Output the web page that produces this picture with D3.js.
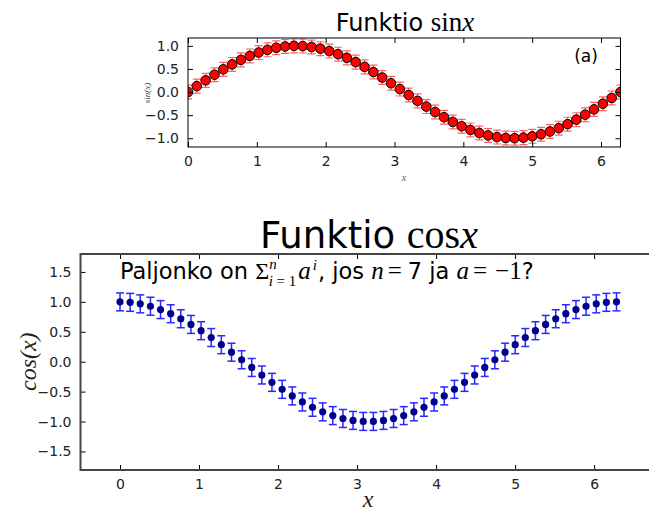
<!DOCTYPE html>
<html>
<head>
<meta charset="utf-8">
<script src="https://cdn.jsdelivr.net/npm/d3@7"></script>
<style>
  body { margin: 0; background: #fff; }
  svg { display: block; }
  .tick text { font-family: "DejaVu Sans", sans-serif; }
</style>
</head>
<body>
<svg id="canvas" width="649" height="513"></svg>
<script>
// sample points, 50 steps over 0..2pi
let xs = [0, 0.128, 0.256, 0.385, 0.513, 0.641, 0.769, 0.898, 1.026, 1.154,
  1.282, 1.411, 1.539, 1.667, 1.795, 1.923, 2.052, 2.180, 2.308, 2.436,
  2.565, 2.693, 2.821, 2.949, 3.078, 3.206, 3.334, 3.462, 3.590, 3.719,
  3.847, 3.975, 4.103, 4.232, 4.360, 4.488, 4.616, 4.744, 4.873, 5.001,
  5.129, 5.257, 5.386, 5.514, 5.642, 5.770, 5.898, 6.027, 6.155, 6.283];

let sinValues = [0, 0.128, 0.253, 0.375, 0.491, 0.598, 0.696, 0.782, 0.855, 0.914,
  0.959, 0.987, 1.0, 0.995, 0.975, 0.939, 0.887, 0.820, 0.740, 0.648,
  0.545, 0.433, 0.315, 0.191, 0.064, -0.064, -0.191, -0.315, -0.433, -0.545,
  -0.648, -0.740, -0.820, -0.887, -0.939, -0.975, -0.995, -1.0, -0.987, -0.959,
  -0.914, -0.855, -0.782, -0.696, -0.598, -0.491, -0.375, -0.253, -0.128, 0];

let cosValues = [1.0, 0.992, 0.967, 0.927, 0.871, 0.802, 0.718, 0.623, 0.518, 0.404,
  0.284, 0.159, 0.032, -0.096, -0.222, -0.345, -0.462, -0.572, -0.673, -0.762,
  -0.838, -0.901, -0.949, -0.981, -0.998, -0.998, -0.981, -0.949, -0.901, -0.838,
  -0.762, -0.673, -0.572, -0.462, -0.345, -0.222, -0.096, 0.032, 0.159, 0.284,
  0.404, 0.518, 0.623, 0.718, 0.802, 0.871, 0.927, 0.967, 0.992, 1.0];

let errorSize = 0.15;

let topXTicks = [0, 1, 2, 3, 4, 5, 6];
let topYTicks = [-1.0, -0.5, 0.0, 0.5, 1.0];
let bottomXTicks = [0, 1, 2, 3, 4, 5, 6];
let bottomYTicks = [-1.5, -1.0, -0.5, 0.0, 0.5, 1.0, 1.5];

let canvas = d3.select("#canvas");
const sans = "'DejaVu Sans', sans-serif";
const serif = "'Liberation Serif', serif";

// draws a box with inward ticks on all four sides
const drawFrame = (g, x, y, xTicks, yTicks, fmtY, fontSize, strokeW, color) => {
  let [x0, x1] = x.range();
  let [y0, y1] = y.range(); // y0 bottom, y1 top
  let tickLen = 5;

  let bottomAxis = d3.axisBottom(x).tickValues(xTicks).tickSize(-tickLen).tickPadding(9).tickFormat(d3.format("d"));
  let topAxis = d3.axisTop(x).tickValues(xTicks).tickSize(-tickLen).tickFormat("");
  let leftAxis = d3.axisLeft(y).tickValues(yTicks).tickSize(-tickLen).tickPadding(9).tickFormat(fmtY);
  let rightAxis = d3.axisRight(y).tickValues(yTicks).tickSize(-tickLen).tickFormat("");

  let axes = [
    [bottomAxis, `translate(0,${y0})`],
    [topAxis, `translate(0,${y1})`],
    [leftAxis, `translate(${x0},0)`],
    [rightAxis, `translate(${x1},0)`],
  ];
  axes.forEach(([ax, tr]) => {
    let a = g.append("g").attr("transform", tr).call(ax);
    a.select(".domain").remove();
    a.selectAll(".tick line").attr("stroke", "#000").attr("stroke-width", 1);
    a.selectAll(".tick text").attr("font-size", fontSize).attr("fill", "#222");
  });

  g.append("rect")
    .attr("x", x0).attr("y", y1)
    .attr("width", x1 - x0).attr("height", y0 - y1)
    .attr("fill", "none")
    .attr("stroke", color)
    .attr("stroke-width", strokeW);
};

// ---------- top panel: sin ----------
let xTop = d3.scaleLinear().domain([0, 6.283]).range([188, 620.5]);
let yTop = d3.scaleLinear().domain([-1.19, 1.17]).range([147, 38]);
let gTop = canvas.append("g");

gTop.append("clipPath").attr("id", "clipTop")
  .append("rect").attr("x", 188).attr("y", 38).attr("width", 432.5).attr("height", 109);

let topData = xs.map((d, i) => ({ x: d, y: sinValues[i] }));
let topMarks = gTop.append("g").attr("clip-path", "url(#clipTop)");
let capTop = 4;

topMarks.selectAll("g.err")
  .data(topData)
  .enter()
  .append("g")
  .attr("class", "err")
  .each(function (d) {
    let g = d3.select(this);
    let cx = xTop(d.x), ya = yTop(d.y + errorSize), yb = yTop(d.y - errorSize);
    g.append("line").attr("x1", cx).attr("x2", cx).attr("y1", ya).attr("y2", yb);
    g.append("line").attr("x1", cx - capTop).attr("x2", cx + capTop).attr("y1", ya).attr("y2", ya);
    g.append("line").attr("x1", cx - capTop).attr("x2", cx + capTop).attr("y1", yb).attr("y2", yb);
  })
  .attr("stroke", "#ff3030")
  .attr("stroke-opacity", 0.75)
  .attr("stroke-width", 1.2);

topMarks.selectAll("circle")
  .data(topData)
  .enter()
  .append("circle")
  .attr("cx", (d) => xTop(d.x))
  .attr("cy", (d) => yTop(d.y))
  .attr("r", 4.8)
  .attr("fill", "#ff0000")
  .attr("stroke", "#000")
  .attr("stroke-width", 1);

drawFrame(gTop, xTop, yTop, topXTicks, topYTicks, d3.format(".1f"), 14, 1, "#000");

// top title
let t1 = gTop.append("text").attr("x", 405).attr("y", 31).attr("text-anchor", "middle").attr("font-size", 24).attr("fill", "#000");
t1.append("tspan").attr("font-family", sans).text("Funktio ");
t1.append("tspan").attr("font-family", serif).attr("font-size", 27).text("sin");
t1.append("tspan").attr("font-family", serif).attr("font-size", 27).attr("font-style", "italic").text("x");

gTop.append("text")
  .attr("x", 586).attr("y", 62)
  .attr("text-anchor", "middle")
  .attr("font-family", sans)
  .attr("font-size", 17)
  .text("(a)");

gTop.append("text")
  .attr("transform", "translate(150,93) rotate(-90)")
  .attr("text-anchor", "middle")
  .attr("font-family", serif)
  .attr("font-style", "italic")
  .attr("font-size", 9)
  .attr("fill", "#333")
  .text("sin(x)");

gTop.append("text")
  .attr("x", 404).attr("y", 181)
  .attr("text-anchor", "middle")
  .attr("font-family", serif)
  .attr("font-style", "italic")
  .attr("font-size", 10)
  .attr("fill", "#555")
  .text("x");

// ---------- bottom panel: cos ----------
let xBot = d3.scaleLinear().domain([-0.5, 6.783]).range([80.5, 656]);
let yBot = d3.scaleLinear().domain([-1.81, 1.8]).range([470, 254]);
let gBot = canvas.append("g");

let botData = xs.map((d, i) => ({ x: d, y: cosValues[i] }));
let capBot = 4;

gBot.selectAll("g.err")
  .data(botData)
  .enter()
  .append("g")
  .attr("class", "err")
  .each(function (d) {
    let g = d3.select(this);
    let cx = xBot(d.x), ya = yBot(d.y + errorSize), yb = yBot(d.y - errorSize);
    g.append("line").attr("x1", cx).attr("x2", cx).attr("y1", ya).attr("y2", yb);
    g.append("line").attr("x1", cx - capBot).attr("x2", cx + capBot).attr("y1", ya).attr("y2", ya);
    g.append("line").attr("x1", cx - capBot).attr("x2", cx + capBot).attr("y1", yb).attr("y2", yb);
  })
  .attr("stroke", "#2828ff")
  .attr("stroke-width", 1.5);

gBot.selectAll("circle")
  .data(botData)
  .enter()
  .append("circle")
  .attr("cx", (d) => xBot(d.x))
  .attr("cy", (d) => yBot(d.y))
  .attr("r", 3.6)
  .attr("fill", "#00008b");

drawFrame(gBot, xBot, yBot, bottomXTicks, bottomYTicks, d3.format(".1f"), 14, 2, "#444");

// bottom title
let t2 = gBot.append("text").attr("x", 369).attr("y", 248).attr("text-anchor", "middle").attr("font-size", 37).attr("fill", "#000");
t2.append("tspan").attr("font-family", sans).text("Funktio ");
t2.append("tspan").attr("font-family", serif).attr("font-size", 40).text("cos");
t2.append("tspan").attr("font-family", serif).attr("font-size", 40).attr("font-style", "italic").text("x");

// annotation with math
let ann = gBot.append("text")
  .attr("x", xBot(0)).attr("y", yBot(1.5) + 7)
  .attr("font-size", 22.5)
  .attr("fill", "#000");
ann.append("tspan").attr("font-family", sans).text("Paljonko on ");
ann.append("tspan").attr("font-family", serif).attr("font-size", 24).text("Σ");
ann.append("tspan").attr("font-family", serif).attr("font-style", "italic").attr("font-size", 15).attr("dy", -10).text("n");
ann.append("tspan").attr("font-family", serif).attr("font-size", 15).attr("dx", -8).attr("dy", 17)
  .html("<tspan font-style='italic'>i</tspan> = 1");
ann.append("tspan").attr("font-family", serif).attr("font-size", 25).attr("font-style", "italic").attr("dx", 2).attr("dy", -7).text("a");
ann.append("tspan").attr("font-family", serif).attr("font-style", "italic").attr("font-size", 15).attr("dx", 2).attr("dy", -9).text("i");
ann.append("tspan").attr("font-family", sans).attr("dx", 1).attr("dy", 9).text(", jos ");
ann.append("tspan").attr("font-family", serif).attr("font-size", 25).attr("font-style", "italic").text("n");
ann.append("tspan").attr("font-family", serif).attr("font-size", 25).attr("dx", 4).text("=");
ann.append("tspan").attr("font-family", sans).attr("dx", 6).text("7 ja ");
ann.append("tspan").attr("font-family", serif).attr("font-size", 25).attr("font-style", "italic").text("a");
ann.append("tspan").attr("font-family", serif).attr("font-size", 25).attr("dx", 4).text("=");
ann.append("tspan").attr("font-family", serif).attr("font-size", 25).attr("dx", 8).text("−1");
ann.append("tspan").attr("font-family", sans).text("?");

gBot.append("text")
  .attr("transform", `translate(36,${yBot(0)}) rotate(-90)`)
  .attr("text-anchor", "middle")
  .attr("font-family", serif)
  .attr("font-style", "italic")
  .attr("font-size", 24)
  .attr("fill", "#222")
  .text("cos(x)");

gBot.append("text")
  .attr("x", 368).attr("y", 507)
  .attr("text-anchor", "middle")
  .attr("font-family", serif)
  .attr("font-style", "italic")
  .attr("font-size", 24)
  .attr("fill", "#222")
  .text("x");
</script>
</body>
</html>
